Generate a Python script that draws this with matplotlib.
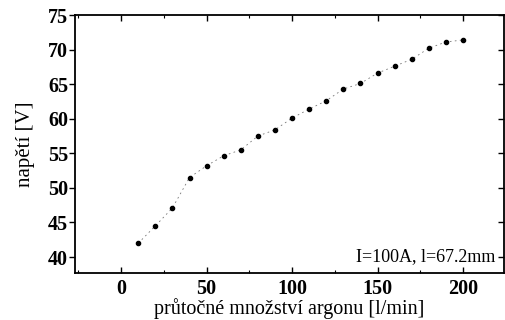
import matplotlib
matplotlib.use("Agg")
import matplotlib.pyplot as plt
from matplotlib.ticker import MultipleLocator

flow = [10, 20, 30, 40, 50, 60, 70, 80, 90, 100, 110, 120, 130, 140, 150, 160, 170, 180, 190, 200]
voltage = [42.0, 44.5, 47.1, 51.5, 53.2, 54.65, 55.5, 57.5, 58.4, 60.1, 61.4, 62.6, 64.3, 65.1,
           66.6, 67.6, 68.6, 70.2, 71.1, 71.4]
x_ticks = [0, 50, 100, 150, 200]
y_ticks = [40, 45, 50, 55, 60, 65, 70, 75]

plt.rcParams['font.family'] = ['Liberation Serif', 'DejaVu Serif']

fig = plt.figure(figsize=(5.05, 3.2), dpi=100)
ax = fig.add_axes([0.1485, 0.147, 0.8495, 0.806])

ax.plot(flow, voltage, linestyle=(0, (2, 4)), color='#777777', linewidth=0.6, zorder=1)
ax.plot(flow, voltage, linestyle='none', marker='o', markersize=3.0, color='black', zorder=2)

ax.set_xlim(-27, 224)
ax.set_ylim(37.7, 75)
ax.set_xticks(x_ticks)
ax.set_yticks(y_ticks)
ax.xaxis.set_minor_locator(MultipleLocator(25))

for lab in ax.get_xticklabels() + ax.get_yticklabels():
    lab.set_fontweight('bold')
    lab.set_fontsize(14.5)

ax.tick_params(axis='x', which='both', direction='in', top=True, bottom=True, pad=4)
ax.tick_params(axis='x', which='major', length=4, width=1)
ax.tick_params(axis='x', which='minor', length=2, width=0.8)
ax.tick_params(axis='y', which='major', direction='out', length=4, width=1, left=True, right=False, pad=1)
ax2 = ax.secondary_yaxis('right')
ax2.set_yticks(y_ticks)
ax2.tick_params(direction='in', length=4, width=1, labelright=False)

for s in ax.spines.values():
    s.set_linewidth(1.3)
ax2.spines['right'].set_visible(False)

ax.set_xlabel('průtočné množství argonu [l/min]', fontsize=14.5, labelpad=0)
ax.set_ylabel('napětí [V]', fontsize=15, labelpad=9)

ax.text(0.979, 0.062, 'I=100A, l=67.2mm', transform=ax.transAxes, ha='right', va='center', fontsize=13)

fig.savefig('out.png', dpi=100)
